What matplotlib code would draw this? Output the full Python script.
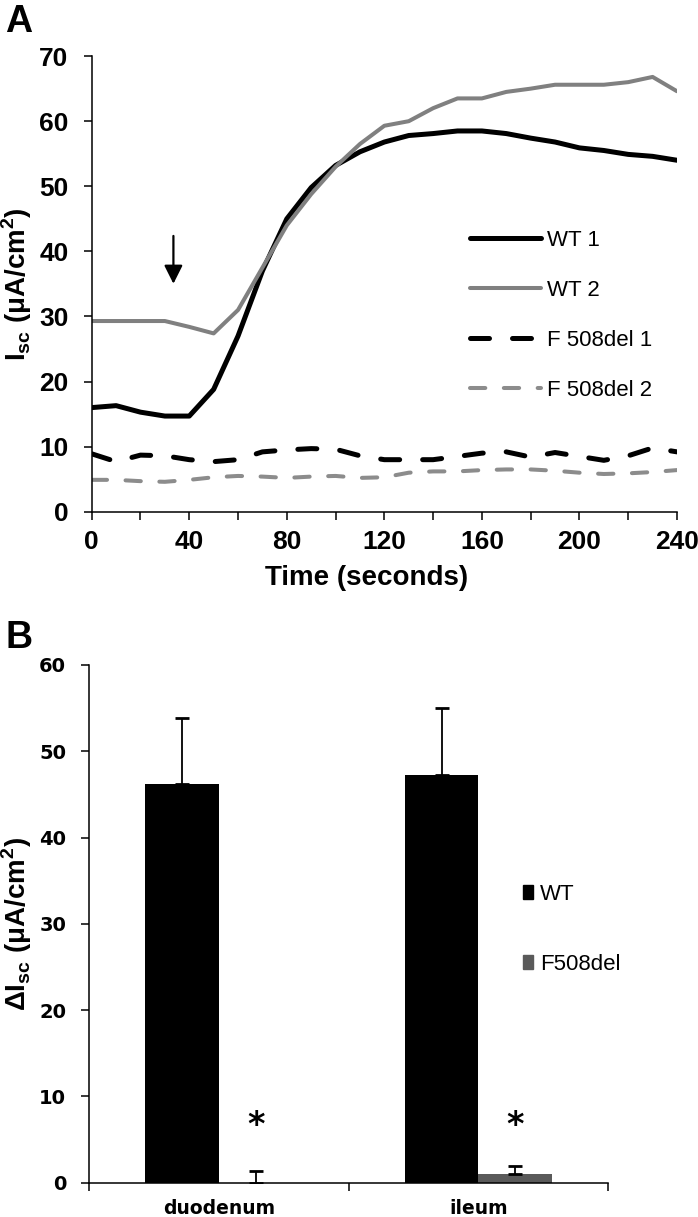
import numpy as np
import matplotlib
matplotlib.use('Agg')
import matplotlib.pyplot as plt
from matplotlib.patches import Patch

plt.rcParams['font.family'] = ['Liberation Sans', 'DejaVu Sans']
plt.rcParams['mathtext.fontset'] = 'custom'
plt.rcParams['mathtext.rm'] = 'Liberation Sans'
plt.rcParams['mathtext.bf'] = 'Liberation Sans:bold'

# panel A: Isc traces, sampled every 10 s
time_s = [0, 10, 20, 30, 40, 50, 60, 70, 80, 90, 100, 110, 120,
          130, 140, 150, 160, 170, 180, 190, 200, 210, 220, 230, 240]
wt1 = [16.0, 16.3, 15.3, 14.7, 14.7, 18.8, 27.0, 37.0, 45.0, 49.8, 53.2, 55.3, 56.8,
       57.8, 58.1, 58.5, 58.5, 58.1, 57.4, 56.8, 55.9, 55.5, 54.9, 54.6, 54.0]
wt2 = [29.3, 29.3, 29.3, 29.3, 28.4, 27.4, 31.0, 37.5, 44.0, 48.8, 53.0, 56.5, 59.3,
       60.0, 62.0, 63.5, 63.5, 64.5, 65.0, 65.6, 65.6, 65.6, 66.0, 66.8, 64.6]
f508_1 = [8.9, 7.7, 8.7, 8.6, 8.0, 7.7, 8.0, 9.2, 9.5, 9.7, 9.6, 8.6, 8.0,
          8.0, 8.0, 8.5, 9.0, 9.2, 8.4, 9.1, 8.5, 7.9, 8.6, 9.8, 9.2]
f508_2 = [4.9, 4.9, 4.7, 4.6, 4.9, 5.3, 5.5, 5.4, 5.2, 5.4, 5.5, 5.2, 5.3,
          6.0, 6.2, 6.2, 6.4, 6.5, 6.5, 6.3, 6.0, 5.8, 5.9, 6.1, 6.4]
a_xticks = [0, 40, 80, 120, 160, 200, 240]
a_xminor = [20, 60, 100, 140, 180, 220]
a_yticks = [0, 10, 20, 30, 40, 50, 60, 70]
arrow_t = 33.5
arrow_from, arrow_to = 42.8, 34.6

# panel B: delta Isc by segment
segments = ['duodenum', 'ileum']
wt_mean = [46.2, 47.3]
wt_err = [7.6, 7.7]
f508_mean = [0.0, 1.0]
f508_err = [1.35, 0.9]
b_yticks = [0, 10, 20, 30, 40, 50, 60]
star_y = 6.6

fig = plt.figure(figsize=(6.98, 12.17), dpi=100)

# ---------- A ----------
ax = fig.add_axes([0.1314, 0.5795, 0.8385, 0.3744])
dash = (0, (3.8, 4.6))
ax.plot(time_s, wt1, color='black', lw=3.6, label='WT 1', solid_capstyle='round')
ax.plot(time_s, wt2, color='#808080', lw=2.9, label='WT 2', solid_capstyle='round')
ax.plot(time_s, f508_1, color='black', lw=3.6, ls=dash, dash_capstyle='round', label='F 508del 1')
ax.plot(time_s, f508_2, color='#8c8c8c', lw=2.9, ls=dash, dash_capstyle='round', label='F 508del 2')
ax.annotate('', xy=(arrow_t, arrow_to), xytext=(arrow_t, arrow_from),
            arrowprops=dict(arrowstyle='-|>', color='black', lw=1.6, mutation_scale=28))

ax.set_xlim(0, 240)
ax.set_ylim(0, 70)
tick_font = dict(family=['Liberation Sans Narrow', 'Liberation Sans'], fontweight='bold', fontsize=19)
ax.set_xticks(a_xticks, [str(v) for v in a_xticks], **tick_font)
ax.set_xticks(a_xminor, minor=True)
ax.set_yticks(a_yticks, [str(v) for v in a_yticks], **tick_font)
for s in ['top', 'right']:
    ax.spines[s].set_visible(False)
for s in ['left', 'bottom']:
    ax.spines[s].set_linewidth(1.1)
ax.tick_params(which='both', length=5.8, width=1.1, direction='out')
ax.tick_params(axis='y', pad=11)
ax.tick_params(axis='x', pad=7)

ax.set_xlabel('Time (seconds)', fontsize=20, fontweight='bold')
ax.xaxis.label.set_va('center')
ax.xaxis.set_label_coords(0.469, -0.1455)
ax.set_ylabel(r'$\mathbf{I_{sc}}$ (μA/cm$^{\mathbf{2}}$)', fontsize=20, fontweight='bold')
ax.yaxis.label.set_va('center')
ax.yaxis.set_label_coords(-0.1277, 0.5)

ax.legend(loc='upper left', bbox_to_anchor=(470 / 698, 1 - 230 / 1217),
          bbox_transform=fig.transFigure, frameon=False, fontsize=16,
          handlelength=3.2, handletextpad=0.25, labelspacing=1.3,
          borderpad=0, borderaxespad=0)

# ---------- B ----------
bx = fig.add_axes([0.1282, 0.0282, 0.7428, 0.4254])
x = np.arange(len(segments))
w = 0.284
ekw = dict(elinewidth=1.3, capsize=5, capthick=2.0, ecolor='black')
bx.bar(x - w / 2, wt_mean, w, color='black', label='WT',
       yerr=[[0] * len(x), wt_err], error_kw=ekw)
bx.bar(x + w / 2, f508_mean, w, color='#5a5a5a', label='F508del',
       yerr=[[0] * len(x), f508_err], error_kw=ekw)
for xi in x:
    bx.text(xi + w / 2, star_y, '*', ha='center', va='center',
            fontsize=24, fontweight='bold', family='DejaVu Sans')

bx.set_xlim(-0.5, 1.5)
bx.set_ylim(0, 60)
bx.set_yticks(b_yticks, [str(v) for v in b_yticks], family='DejaVu Sans',
              fontweight='bold', fontsize=14)
bx.set_xticks([-0.5, 0.5, 1.5], ['', '', ''])
bx.set_xticks(x, segments, minor=True, family='DejaVu Sans', fontweight='bold', fontsize=13.5)
bx.tick_params(axis='x', which='minor', length=0, pad=12)
bx.tick_params(axis='x', which='major', length=5.8, width=1.1)
bx.tick_params(axis='y', length=5.8, width=1.1, pad=11)
for s in ['top', 'right']:
    bx.spines[s].set_visible(False)
for s in ['left', 'bottom']:
    bx.spines[s].set_linewidth(1.1)

bx.set_ylabel(r'ΔI$_{\mathbf{sc}}$ (μA/cm$^{\mathbf{2}}$)', fontsize=20, fontweight='bold')
bx.yaxis.label.set_va('center')
bx.yaxis.set_label_coords(-0.141, 0.5)

handles = [Patch(color='black'), Patch(color='#5a5a5a')]
bx.legend(handles, ['WT', 'F508del'], loc='upper left',
          bbox_to_anchor=(523 / 698, 1 - 884 / 1217), bbox_transform=fig.transFigure,
          frameon=False, fontsize=16, handlelength=0.45, handleheight=0.55,
          handletextpad=0.3, labelspacing=2.2, borderpad=0, borderaxespad=0)

fig.text(5 / 698, 1 - 4 / 1217, 'A', fontsize=27, fontweight='bold', va='top', ha='left')
fig.text(5 / 698, 1 - 620 / 1217, 'B', fontsize=27, fontweight='bold', va='top', ha='left')

fig.savefig('out.png', dpi=100)
